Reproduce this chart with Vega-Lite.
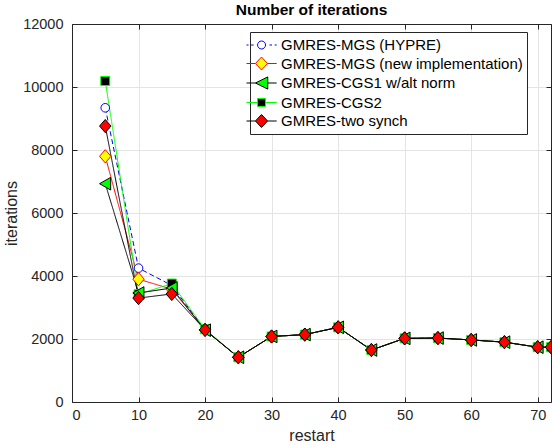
{
  "$schema": "https://vega.github.io/schema/vega-lite/v6.json",
  "width": 479,
  "height": 378,
  "autosize": {"type": "none"},
  "padding": {"left": 72, "top": 24, "right": 1, "bottom": 43},
  "background": "white",
  "config": {
    "font": "Liberation Sans",
    "view": {"stroke": null},
    "axis": {
      "domainColor": "#262626",
      "tickColor": "#262626",
      "labelColor": "#262626",
      "labelFontSize": 14.5,
      "titleFontSize": 16,
      "titleFontWeight": "normal",
      "titleColor": "#262626",
      "tickSize": -5,
      "gridColor": "#e4e4e4",
      "gridOpacity": 1
    },
    "legend": {
      "orient": "none", "legendX": 178, "legendY": 8, "title": null,
      "strokeColor": "#262626", "fillColor": "#ffffff", "padding": 4,
      "labelFontSize": 15, "labelColor": "#000000", "labelFont": "Liberation Sans", "labelLimit": 400,
      "symbolSize": 289, "symbolStrokeWidth": 1, "labelOffset": 9, "rowPadding": 1.5
    }
  },
  "title": {"text": "Number of iterations", "fontSize": 15.5, "fontWeight": "bold", "color": "#000000", "offset": -2},
  "data": {
    "values": [
      {"series": "GMRES-MGS (HYPRE)", "restart": 5, "iterations": 9340},
      {"series": "GMRES-MGS (HYPRE)", "restart": 10, "iterations": 4250},
      {"series": "GMRES-MGS (HYPRE)", "restart": 15, "iterations": 3700},
      {"series": "GMRES-MGS (HYPRE)", "restart": 20, "iterations": 2290},
      {"series": "GMRES-MGS (HYPRE)", "restart": 25, "iterations": 1420},
      {"series": "GMRES-MGS (HYPRE)", "restart": 30, "iterations": 2080},
      {"series": "GMRES-MGS (HYPRE)", "restart": 35, "iterations": 2140},
      {"series": "GMRES-MGS (HYPRE)", "restart": 40, "iterations": 2370},
      {"series": "GMRES-MGS (HYPRE)", "restart": 45, "iterations": 1650},
      {"series": "GMRES-MGS (HYPRE)", "restart": 50, "iterations": 2020},
      {"series": "GMRES-MGS (HYPRE)", "restart": 55, "iterations": 2030},
      {"series": "GMRES-MGS (HYPRE)", "restart": 60, "iterations": 1970},
      {"series": "GMRES-MGS (HYPRE)", "restart": 65, "iterations": 1900},
      {"series": "GMRES-MGS (HYPRE)", "restart": 70, "iterations": 1740},
      {"series": "GMRES-MGS (HYPRE)", "restart": 72, "iterations": 1740},
      {"series": "GMRES-MGS (new implementation)", "restart": 5, "iterations": 7800},
      {"series": "GMRES-MGS (new implementation)", "restart": 10, "iterations": 3900},
      {"series": "GMRES-MGS (new implementation)", "restart": 15, "iterations": 3580},
      {"series": "GMRES-MGS (new implementation)", "restart": 20, "iterations": 2290},
      {"series": "GMRES-MGS (new implementation)", "restart": 25, "iterations": 1420},
      {"series": "GMRES-MGS (new implementation)", "restart": 30, "iterations": 2080},
      {"series": "GMRES-MGS (new implementation)", "restart": 35, "iterations": 2140},
      {"series": "GMRES-MGS (new implementation)", "restart": 40, "iterations": 2370},
      {"series": "GMRES-MGS (new implementation)", "restart": 45, "iterations": 1650},
      {"series": "GMRES-MGS (new implementation)", "restart": 50, "iterations": 2020},
      {"series": "GMRES-MGS (new implementation)", "restart": 55, "iterations": 2030},
      {"series": "GMRES-MGS (new implementation)", "restart": 60, "iterations": 1970},
      {"series": "GMRES-MGS (new implementation)", "restart": 65, "iterations": 1900},
      {"series": "GMRES-MGS (new implementation)", "restart": 70, "iterations": 1740},
      {"series": "GMRES-MGS (new implementation)", "restart": 72, "iterations": 1740},
      {"series": "GMRES-CGS2", "restart": 5, "iterations": 10190},
      {"series": "GMRES-CGS2", "restart": 10, "iterations": 3420},
      {"series": "GMRES-CGS2", "restart": 15, "iterations": 3760},
      {"series": "GMRES-CGS2", "restart": 20, "iterations": 2310},
      {"series": "GMRES-CGS2", "restart": 25, "iterations": 1420},
      {"series": "GMRES-CGS2", "restart": 30, "iterations": 2080},
      {"series": "GMRES-CGS2", "restart": 35, "iterations": 2140},
      {"series": "GMRES-CGS2", "restart": 40, "iterations": 2370},
      {"series": "GMRES-CGS2", "restart": 45, "iterations": 1650},
      {"series": "GMRES-CGS2", "restart": 50, "iterations": 2020},
      {"series": "GMRES-CGS2", "restart": 55, "iterations": 2030},
      {"series": "GMRES-CGS2", "restart": 60, "iterations": 1970},
      {"series": "GMRES-CGS2", "restart": 65, "iterations": 1900},
      {"series": "GMRES-CGS2", "restart": 70, "iterations": 1740},
      {"series": "GMRES-CGS2", "restart": 72, "iterations": 1740},
      {"series": "GMRES-CGS1 w/alt norm", "restart": 5, "iterations": 6930},
      {"series": "GMRES-CGS1 w/alt norm", "restart": 10, "iterations": 3460},
      {"series": "GMRES-CGS1 w/alt norm", "restart": 15, "iterations": 3620},
      {"series": "GMRES-CGS1 w/alt norm", "restart": 20, "iterations": 2280},
      {"series": "GMRES-CGS1 w/alt norm", "restart": 25, "iterations": 1420},
      {"series": "GMRES-CGS1 w/alt norm", "restart": 30, "iterations": 2080},
      {"series": "GMRES-CGS1 w/alt norm", "restart": 35, "iterations": 2140},
      {"series": "GMRES-CGS1 w/alt norm", "restart": 40, "iterations": 2370},
      {"series": "GMRES-CGS1 w/alt norm", "restart": 45, "iterations": 1650},
      {"series": "GMRES-CGS1 w/alt norm", "restart": 50, "iterations": 2020},
      {"series": "GMRES-CGS1 w/alt norm", "restart": 55, "iterations": 2030},
      {"series": "GMRES-CGS1 w/alt norm", "restart": 60, "iterations": 1970},
      {"series": "GMRES-CGS1 w/alt norm", "restart": 65, "iterations": 1900},
      {"series": "GMRES-CGS1 w/alt norm", "restart": 70, "iterations": 1740},
      {"series": "GMRES-CGS1 w/alt norm", "restart": 72, "iterations": 1740},
      {"series": "GMRES-two synch", "restart": 5, "iterations": 8760},
      {"series": "GMRES-two synch", "restart": 10, "iterations": 3300},
      {"series": "GMRES-two synch", "restart": 15, "iterations": 3430},
      {"series": "GMRES-two synch", "restart": 20, "iterations": 2290},
      {"series": "GMRES-two synch", "restart": 25, "iterations": 1420},
      {"series": "GMRES-two synch", "restart": 30, "iterations": 2080},
      {"series": "GMRES-two synch", "restart": 35, "iterations": 2140},
      {"series": "GMRES-two synch", "restart": 40, "iterations": 2370},
      {"series": "GMRES-two synch", "restart": 45, "iterations": 1650},
      {"series": "GMRES-two synch", "restart": 50, "iterations": 2020},
      {"series": "GMRES-two synch", "restart": 55, "iterations": 2030},
      {"series": "GMRES-two synch", "restart": 60, "iterations": 1970},
      {"series": "GMRES-two synch", "restart": 65, "iterations": 1900},
      {"series": "GMRES-two synch", "restart": 70, "iterations": 1740},
      {"series": "GMRES-two synch", "restart": 72, "iterations": 1740}
    ]
  },
  "resolve": {
    "scale": {"x": "independent", "y": "independent", "stroke": "independent", "fill": "independent", "shape": "independent", "strokeDash": "independent"},
    "axis": {"x": "independent", "y": "independent"}
  },
  "layer": [
    {
      "mark": {"type": "line", "strokeWidth": 1, "clip": true},
      "encoding": {
        "x": {"field": "restart", "type": "quantitative", "scale": {"domain": [0, 72], "nice": false},
              "axis": {"orient": "bottom", "values": [0, 10, 20, 30, 40, 50, 60, 70], "grid": true, "title": "restart", "labelPadding": 11, "titlePadding": 6}},
        "y": {"field": "iterations", "type": "quantitative", "scale": {"domain": [0, 12000], "nice": false},
              "axis": {"orient": "left", "values": [0, 2000, 4000, 6000, 8000, 10000, 12000], "format": "d", "grid": true, "title": "iterations", "labelPadding": 14, "titlePadding": 3}},
        "stroke": {"field": "series", "type": "nominal", "legend": null,
                   "scale": {"domain": ["GMRES-MGS (HYPRE)", "GMRES-MGS (new implementation)", "GMRES-CGS1 w/alt norm", "GMRES-CGS2", "GMRES-two synch"],
                             "range": ["#0000ff", "#ff0000", "#000000", "#00ff00", "#000000"]}},
        "strokeDash": {"field": "series", "type": "nominal", "legend": null,
                       "scale": {"domain": ["GMRES-MGS (HYPRE)", "GMRES-MGS (new implementation)", "GMRES-CGS1 w/alt norm", "GMRES-CGS2", "GMRES-two synch"],
                                 "range": [[5, 3], [1, 0], [1, 0], [1, 0], [1, 0]]}}
      }
    },
    {
      "mark": {"type": "point", "filled": true, "size": 144, "strokeWidth": 1, "opacity": 1, "clip": true},
      "encoding": {
        "x": {"field": "restart", "type": "quantitative", "scale": {"domain": [0, 72], "nice": false},
              "axis": {"orient": "top", "values": [0, 10, 20, 30, 40, 50, 60, 70], "labels": false, "grid": false, "title": null}},
        "y": {"field": "iterations", "type": "quantitative", "scale": {"domain": [0, 12000], "nice": false},
              "axis": {"orient": "right", "values": [0, 2000, 4000, 6000, 8000, 10000, 12000], "labels": false, "grid": false, "title": null}},
        "stroke": {"field": "series", "type": "nominal", "legend": null,
                   "scale": {"domain": ["GMRES-MGS (HYPRE)", "GMRES-MGS (new implementation)", "GMRES-CGS1 w/alt norm", "GMRES-CGS2", "GMRES-two synch"],
                             "range": ["#0000ff", "#ff0000", "#000000", "#00ff00", "#000000"]}},
        "fill": {"field": "series", "type": "nominal", "legend": null,
                 "scale": {"domain": ["GMRES-MGS (HYPRE)", "GMRES-MGS (new implementation)", "GMRES-CGS1 w/alt norm", "GMRES-CGS2", "GMRES-two synch"],
                           "range": ["#ffffff", "#ffff00", "#00ff00", "#000000", "#ff0000"]}},
        "shape": {"field": "series", "type": "nominal", "legend": null,
                  "scale": {"domain": ["GMRES-MGS (HYPRE)", "GMRES-MGS (new implementation)", "GMRES-CGS1 w/alt norm", "GMRES-CGS2", "GMRES-two synch"],
                            "range": ["M-0.72,0A0.72,0.72,0,1,0,0.72,0A0.72,0.72,0,1,0,-0.72,0Z", "M0,-1.1L0.95,0L0,1.1L-0.95,0Z", "M-0.95,0L0.9,-1.05L0.9,1.05Z", "M-0.75,-0.75H0.75V0.75H-0.75Z", "M0,-1.1L0.95,0L0,1.1L-0.95,0Z"]}}
      }
    },
    {
      "transform": [{"filter": "datum.restart < 0"}],
      "mark": {"type": "point", "filled": true, "size": 289, "strokeWidth": 1, "opacity": 1, "clip": true},
      "encoding": {
        "x": {"field": "restart", "type": "quantitative", "scale": {"domain": [0, 72], "nice": false}, "axis": null},
        "y": {"field": "iterations", "type": "quantitative", "scale": {"domain": [0, 12000], "nice": false}, "axis": null},
        "stroke": {"field": "series", "type": "nominal",
                   "scale": {"domain": ["GMRES-MGS (HYPRE)", "GMRES-MGS (new implementation)", "GMRES-CGS1 w/alt norm", "GMRES-CGS2", "GMRES-two synch"],
                             "range": ["#0000ff", "#ff0000", "#000000", "#00ff00", "#000000"]}},
        "fill": {"field": "series", "type": "nominal",
                 "scale": {"domain": ["GMRES-MGS (HYPRE)", "GMRES-MGS (new implementation)", "GMRES-CGS1 w/alt norm", "GMRES-CGS2", "GMRES-two synch"],
                           "range": ["#ffffff", "#ffff00", "#00ff00", "#000000", "#ff0000"]}},
        "shape": {"field": "series", "type": "nominal",
                  "scale": {"domain": ["GMRES-MGS (HYPRE)", "GMRES-MGS (new implementation)", "GMRES-CGS1 w/alt norm", "GMRES-CGS2", "GMRES-two synch"],
                            "range": [
                              "M-1.94,0H-1.7M-1.4,0H-1.1M0.76,0H1.06M1.37,0H1.61M0.3,0L0.264,0.18L0.162,0.332L0.01,0.434L-0.17,0.47L-0.35,0.434L-0.502,0.332L-0.604,0.18L-0.64,0L-0.604,-0.18L-0.502,-0.332L-0.35,-0.434L-0.17,-0.47L0.01,-0.434L0.162,-0.332L0.264,-0.18Z",
                              "M-1.94,0H-0.89M0.54,0H1.61M-0.175,-0.76L0.54,0L-0.175,0.76L-0.89,0Z",
                              "M-1.94,0H-0.89M0.56,0H1.61M-0.89,0L0.56,-0.72L0.56,0.72Z",
                              "M-1.94,0H-0.64M0.29,0H1.61M-0.64,-0.47H0.29V0.47H-0.64Z",
                              "M-1.94,0H-0.89M0.54,0H1.61M-0.175,-0.76L0.54,0L-0.175,0.76L-0.89,0Z"]}}
      }
    }
  ]
}
